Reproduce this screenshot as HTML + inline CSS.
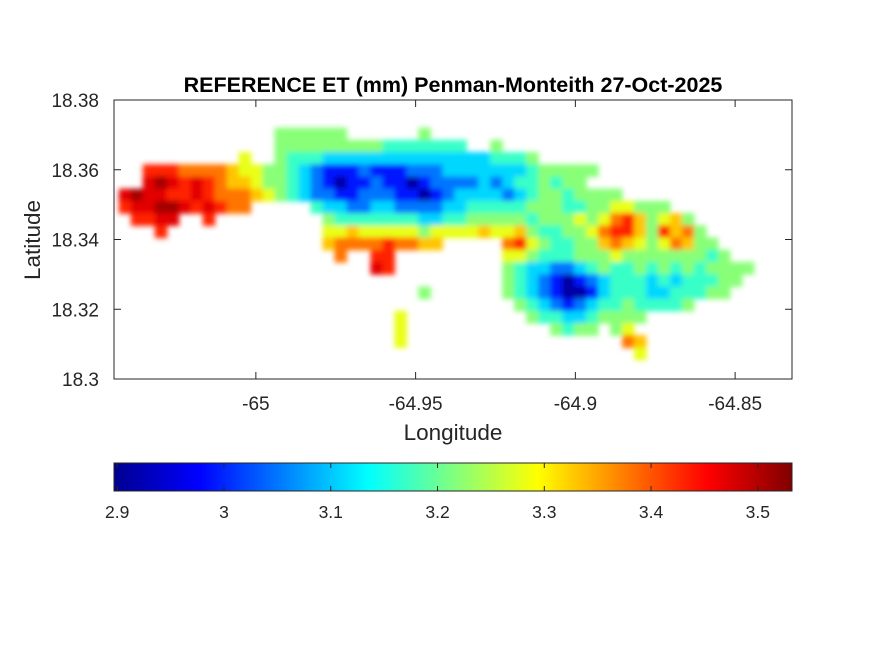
<!DOCTYPE html>
<html><head><meta charset="utf-8"><style>body{margin:0;background:#fff}svg{display:block;font-family:"Liberation Sans",Arial,sans-serif}</style></head>
<body>
<svg id="chart" width="875" height="656" viewBox="0 0 875 656" xmlns="http://www.w3.org/2000/svg">
<defs>
<filter id="soft" x="-5%" y="-5%" width="110%" height="110%"><feGaussianBlur stdDeviation="2.6"/></filter>
<linearGradient id="jetgrad" x1="0" x2="1" y1="0" y2="0">
<stop offset="0" stop-color="#00008f"/><stop offset="0.125" stop-color="#0000ff"/><stop offset="0.375" stop-color="#00ffff"/><stop offset="0.625" stop-color="#ffff00"/><stop offset="0.875" stop-color="#ff0000"/><stop offset="1" stop-color="#800000"/>
</linearGradient>
</defs>
<rect width="875" height="656" fill="#fff"/>
<text x="453" y="92" text-anchor="middle" font-size="21.5" font-weight="bold">REFERENCE ET (mm) Penman-Monteith 27-Oct-2025</text>
<g id="cells" filter="url(#soft)"></g>
<rect x="114" y="100" width="678" height="279" fill="none" stroke="#262626" stroke-width="1"/>
<g id="axes"></g>
<text x="453" y="440" text-anchor="middle" font-size="22.5" fill="#262626">Longitude</text>
<text transform="translate(40,240) rotate(-90)" text-anchor="middle" font-size="22.5" fill="#262626">Latitude</text>
<rect x="114" y="463" width="678" height="28" fill="url(#jetgrad)" stroke="#262626" stroke-width="1"/>
<g id="cbticks"></g>
</svg>
<script>
const lonTicks = [-65, -64.95, -64.9, -64.85];
const latTicks = [18.38, 18.36, 18.34, 18.32, 18.3];
const lonTickLabels = ['-65', '-64.95', '-64.9', '-64.85'];
const latTickLabels = ['18.38', '18.36', '18.34', '18.32', '18.3'];
const cbTicks = [2.9, 3.0, 3.1, 3.2, 3.3, 3.4, 3.5];
const cbTickLabels = ['2.9', '3', '3.1', '3.2', '3.3', '3.4', '3.5'];
const levelKeys = ['0','1','2','3','4','5','6','7','8','9','a','b'];
const levelValues = [2.92, 2.99, 3.05, 3.11, 3.17, 3.22, 3.28, 3.33, 3.38, 3.43, 3.47, 3.51];
const gridLon0 = -65.0428, gridDLon = 0.00375, gridLat0 = 18.37197, gridDLat = 0.0035;
const etRows = [
".............555555......5...........................",
".............5555555554444444..5.....................",
"..........6..5444333333333333334445..................",
"..99988887665543211121112223333333455555...............".slice(0,53),
"..aba9a9877655432101121101222232344545"+"5"+"..............",
"abaa99a98887654322112221101233332345545555...........",
"9aabba9a988"+"....."+"433223322223344444"+"555445566555"+".......",
".99aa..9..."+"......"+"54444444334455555"+"45556568975675"+".....",
"...9"+"............."+"667666665666676"+"67544556899759785"+"....",
"................."+"7888898877"+"....."+"896544557876568755"+"...",
".................."+"8..99"+"........."+"6654445556555555545"+"..",
"....................."+"a9"+"........."+"543322345445454545555",
"................................"+"54321012344434344455"+".",
"........................."+"5"+"......"+"5432100134443344455"+"..",
"................................."+"543212344544445"+".....",
"......................."+"6"+".........."+"5443345555"+".........",
"......................."+"6"+"............"+"5455.56"+"..........",
"......................."+"6"+".................."+"87"+".........",
"..........................................."+"6"+"........."
];
const xMin = -65.0444, xMax = -64.8322, yMin = 18.3, yMax = 18.38;
const PX0 = 114, PX1 = 792, PY0 = 100, PY1 = 379;
const cMin = 2.897, cMax = 3.532;
function xScale(lon){ return PX0 + (lon - xMin) / (xMax - xMin) * (PX1 - PX0); }
function yScale(lat){ return PY1 - (lat - yMin) / (yMax - yMin) * (PY1 - PY0); }
function cScale(v){ return PX0 + (v - cMin) / (cMax - cMin) * (PX1 - PX0); }
function jet(v){
  let t = Math.max(0, Math.min(1, (v - cMin) / (cMax - cMin)));
  const f = (a) => Math.max(0, Math.min(1, a));
  const r = f(Math.min(4*t - 1.5, -4*t + 4.5));
  const g = f(Math.min(4*t - 0.5, -4*t + 3.5));
  const b = f(Math.min(4*t + 0.5, -4*t + 2.5));
  return `rgb(${Math.round(r*255)},${Math.round(g*255)},${Math.round(b*255)})`;
}
const NS = 'http://www.w3.org/2000/svg';
const cells = document.getElementById('cells');
etRows.forEach((row, r) => {
  for (let c = 0; c < row.length; c++) {
    const k = levelKeys.indexOf(row[c]);
    if (k < 0) continue;
    const lonL = gridLon0 + c * gridDLon, lonR = lonL + gridDLon;
    const latT = gridLat0 - r * gridDLat, latB = latT - gridDLat;
    const rect = document.createElementNS(NS, 'rect');
    
    
    rect.setAttribute('x', xScale(lonL) - 0.3);
    rect.setAttribute('y', yScale(latT) - 0.3);
    rect.setAttribute('width', xScale(lonR) - xScale(lonL) + 0.6);
    rect.setAttribute('height', yScale(latB) - yScale(latT) + 0.6);
    rect.setAttribute('fill', jet(levelValues[k]));
    cells.appendChild(rect);
  }
});
const axes = document.getElementById('axes');
function add(parent, tag, attrs, text){
  const e = document.createElementNS(NS, tag);
  for (const a in attrs) e.setAttribute(a, attrs[a]);
  if (text !== undefined) e.textContent = text;
  parent.appendChild(e); return e;
}
lonTicks.forEach((v, i) => {
  const x = xScale(v);
  const t1 = add(axes, 'line', {x1:x, x2:x, y1:PY1, y2:PY1-7, stroke:'#262626'});
  
  
  const t2 = add(axes, 'line', {x1:x, x2:x, y1:PY0, y2:PY0+7, stroke:'#262626'});
  
  
  const l = add(axes, 'text', {x:x, y:410, 'text-anchor':'middle', 'font-size':19, fill:'#262626'}, lonTickLabels[i]);
  
  
});
latTicks.forEach((v, i) => {
  const y = yScale(v);
  const t1 = add(axes, 'line', {x1:PX0, x2:PX0+7, y1:y, y2:y, stroke:'#262626'});
  
  
  const t2 = add(axes, 'line', {x1:PX1, x2:PX1-7, y1:y, y2:y, stroke:'#262626'});
  
  
  const l = add(axes, 'text', {x:99, y:y+7, 'text-anchor':'end', 'font-size':19, fill:'#262626'}, latTickLabels[i]);
  
  
});
const cb = document.getElementById('cbticks');
cbTicks.forEach((v, i) => {
  const x = cScale(v);
  const t1 = add(cb, 'line', {x1:x, x2:x, y1:491, y2:486, stroke:'#262626'});
  
  
  const t2 = add(cb, 'line', {x1:x, x2:x, y1:463, y2:468, stroke:'#262626'});
  
  
  const l = add(cb, 'text', {x:x, y:518, 'text-anchor':'middle', 'font-size':17.5, fill:'#262626'}, cbTickLabels[i]);
  
  
});
</script>
</body></html>
